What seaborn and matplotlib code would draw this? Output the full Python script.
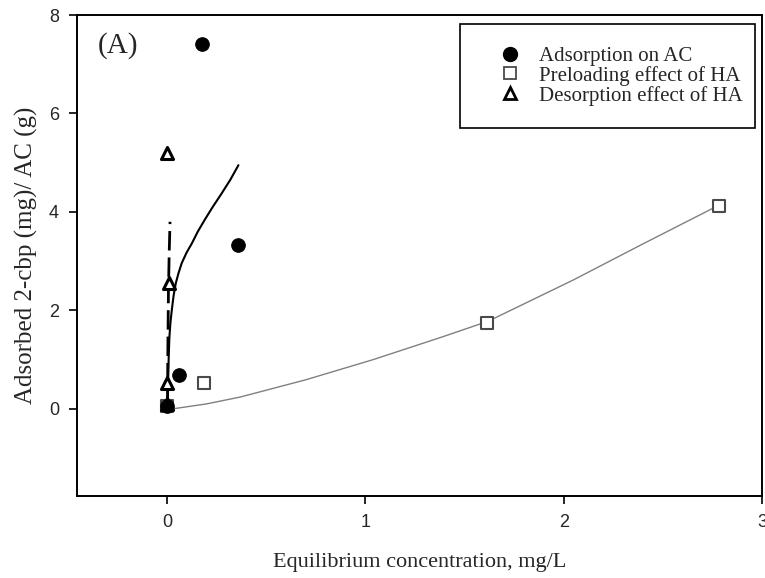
import numpy as np
import pandas as pd
import matplotlib
matplotlib.use("Agg")
import matplotlib.pyplot as plt
import seaborn as sns
from matplotlib.lines import Line2D
from matplotlib.patches import Rectangle

# ---------- DATA ----------
ads_x = [0.0, 0.06, 0.175, 0.358]
ads_y = [0.05, 0.68, 7.42, 3.33]

pre_x = [0.0, 0.187, 1.615, 2.785]
pre_y = [0.05, 0.52, 1.75, 4.13]

des_x = [0.0, 0.0, 0.01, 0.0]
des_y = [0.1, 0.52, 2.55, 5.2]

# fitted curves
fit_ads_x = [0.003, 0.005, 0.007, 0.009, 0.012, 0.017, 0.024, 0.033, 0.044,
             0.058, 0.074, 0.098, 0.125, 0.155, 0.19, 0.23, 0.276, 0.32, 0.36]
fit_ads_y = [0.12, 0.55, 0.86, 1.15, 1.47, 1.75, 2.01, 2.3, 2.55,
             2.76, 2.96, 3.17, 3.36, 3.6, 3.84, 4.1, 4.38, 4.66, 4.95]

fit_des_x = [0.002, 0.004, 0.007, 0.011, 0.015]
fit_des_y = [0.0, 1.2, 2.4, 3.2, 3.8]

fit_pre_x = [0.03, 0.2, 0.37, 0.70, 1.04, 1.38, 1.62, 2.05, 2.39, 2.78]
fit_pre_y = [0.0, 0.1, 0.24, 0.59, 1.0, 1.45, 1.78, 2.62, 3.33, 4.13]

x_ticks = [0, 1, 2, 3]
y_ticks = [0, 2, 4, 6, 8]

# ---------- PLOT ----------
sns.set_style("ticks")
plt.rcParams["font.family"] = ["Liberation Sans", "DejaVu Sans"]
serif = ["Liberation Serif", "DejaVu Serif"]

fig = plt.figure(figsize=(7.65, 5.78), dpi=100)
ax = fig.add_axes([0.1007, 0.142, 0.8953, 0.832])

sns.lineplot(x=fit_pre_x, y=fit_pre_y, ax=ax, color="#808080", lw=1.0,
             sort=False, estimator=None)
sns.lineplot(x=fit_ads_x, y=fit_ads_y, ax=ax, color="black", lw=1.5,
             sort=False, estimator=None)
sns.lineplot(x=fit_des_x, y=fit_des_y, ax=ax, color="black", lw=2.0,
             sort=False, estimator=None, linestyle=(0, (7, 2.5)))

sns.scatterplot(x=pre_x, y=pre_y, ax=ax, marker="s", s=75, facecolor="white",
                edgecolor="#4a4a4a", linewidth=1.5, zorder=3)
sns.scatterplot(x=des_x, y=des_y, ax=ax, marker="^", s=75, facecolor="white",
                edgecolor="black", linewidth=2.2, zorder=4)
sns.scatterplot(x=ads_x, y=ads_y, ax=ax, marker="o", s=95, color="black",
                edgecolor="black", zorder=5)

ax.set_xlim(-0.454, 3.0)
ax.set_ylim(-1.77, 8.0)
ax.set_xticks(x_ticks)
ax.set_yticks(y_ticks)
ax.tick_params(direction="out", length=6, width=1.2, labelsize=13, color="black",
               pad=7)
for sp in ax.spines.values():
    sp.set_visible(True)
    sp.set_linewidth(1.4)
    sp.set_color("black")

ax.set_xlabel("Equilibrium concentration, mg/L", family=serif, fontsize=16,
              labelpad=16)
ax.set_ylabel("Adsorbed 2-cbp (mg)/ AC (g)", family=serif, fontsize=18,
              labelpad=8)

ax.text(0.03, 0.937, "(A)", transform=ax.transAxes, family=serif, fontsize=21,
        ha="left", va="center")

# legend (frame drawn separately so the padding can match the original)
handles = [
    Line2D([], [], ls="none", marker="o", ms=10, mfc="black", mec="black"),
    Line2D([], [], ls="none", marker="s", ms=8, mfc="white", mec="#4a4a4a", mew=1.3),
    Line2D([], [], ls="none", marker="^", ms=8, mfc="white", mec="black", mew=2),
]
labels = ["Adsorption on AC", "Preloading effect of HA", "Desorption effect of HA"]
leg = ax.legend(handles, labels, loc="upper left", bbox_to_anchor=(0.6175, 0.935),
                borderaxespad=0, borderpad=0, frameon=False,
                prop={"family": serif, "size": 15},
                handlelength=1.0, handletextpad=0.85, labelspacing=0.0)
leg.set_zorder(10)
ax.add_patch(Rectangle((0.559, 0.765), 0.4307, 0.216, transform=ax.transAxes,
                       fill=True, facecolor="white", edgecolor="black", lw=1.2,
                       zorder=9))

fig.savefig("out.png", dpi=100)
